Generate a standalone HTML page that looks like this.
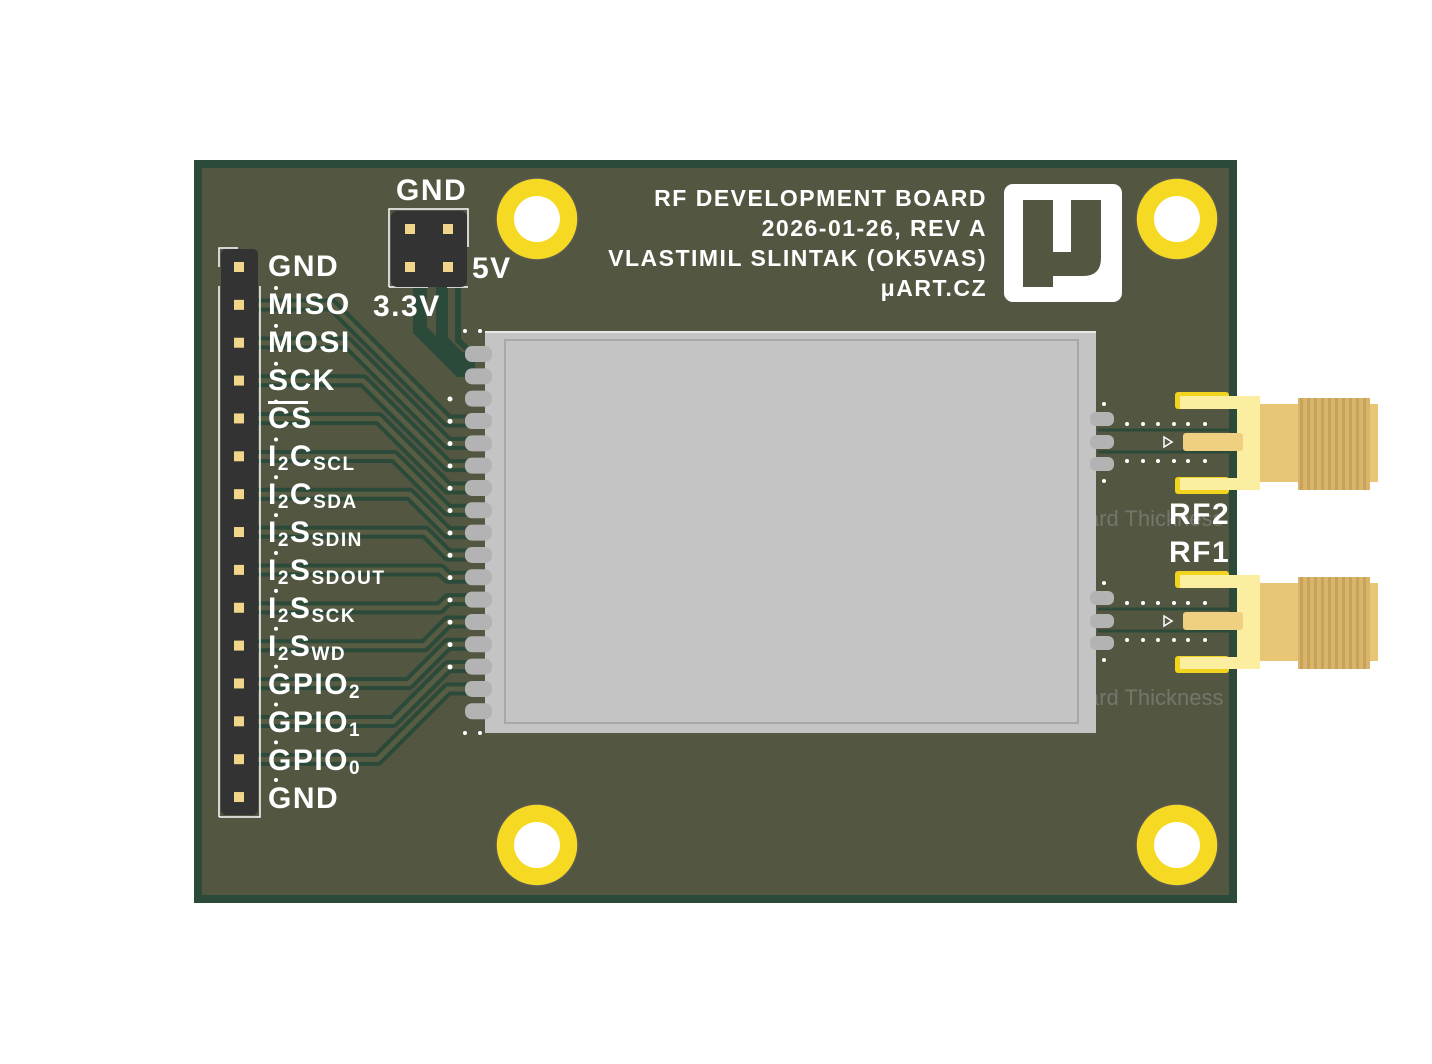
<!DOCTYPE html>
<html><head><meta charset="utf-8"><style>
html,body{margin:0;padding:0;background:#fff;}
svg{display:block}
.l{font-family:"Liberation Sans",sans-serif;font-weight:bold;fill:#fff;}
</style></head><body>
<svg width="1432" height="1064" viewBox="0 0 1432 1064" xmlns="http://www.w3.org/2000/svg">
<rect x="194" y="160" width="1043" height="743" fill="#2c4a3a"/>
<rect x="202" y="168" width="1027" height="727" fill="#535640"/>
<g font-family="Liberation Sans,sans-serif" font-size="22" fill="#75756c">
<text x="1060" y="526">Board Thickness</text>
<text x="1060" y="705">Board Thickness</text>
</g>
<g id="traces" fill="none" stroke-linejoin="round"></g>
<path d="M420 287 V330 L460 370 H475" stroke="#2c4a3a" stroke-width="14" fill="none"/>
<path d="M442 287 V340 L460 358 H475" stroke="#2c4a3a" stroke-width="12" fill="none"/>
<path d="M458 287 V340 L470 352" stroke="#2c4a3a" stroke-width="6" fill="none"/>
<rect x="485" y="331" width="611" height="402" fill="#c4c4c4"/>
<rect x="485" y="331" width="611" height="2" fill="#e8e8e8"/>
<rect x="505" y="340" width="573" height="383" fill="none" stroke="#a8a8a8" stroke-width="2"/>
<g id="pads" fill="#b3b3b3"></g>
<g fill="#b3b3b3">
<rect x="1090" y="412" width="24" height="14" rx="6"/><rect x="1090" y="435" width="24" height="14" rx="6"/><rect x="1090" y="457" width="24" height="14" rx="6"/>
<rect x="1090" y="591" width="24" height="14" rx="6"/><rect x="1090" y="614" width="24" height="14" rx="6"/><rect x="1090" y="636" width="24" height="14" rx="6"/>
</g>
<g stroke="#2c4a3a" stroke-width="3">
<line x1="1098" y1="430" x2="1230" y2="430"/><line x1="1098" y1="452" x2="1230" y2="452"/>
<line x1="1098" y1="609" x2="1230" y2="609"/><line x1="1098" y1="631" x2="1230" y2="631"/>
</g>
<g fill="#fff" id="vias"></g>
<g fill="#f5d922" stroke="#5a5a50" stroke-width="1.5">
<circle cx="537" cy="219" r="41"/><circle cx="1177" cy="219" r="41"/><circle cx="537" cy="845" r="41"/><circle cx="1177" cy="845" r="41"/>
</g>
<g fill="#fff"><circle cx="537" cy="219" r="23"/><circle cx="1177" cy="219" r="23"/><circle cx="537" cy="845" r="23"/><circle cx="1177" cy="845" r="23"/></g>
<path d="M389 287 V209 H468 V247" fill="none" stroke="#fff" stroke-width="1.5"/>
<path d="M389 287 H428 M447 287 H468" fill="none" stroke="#fff" stroke-width="1.5"/>
<rect x="391" y="211" width="76" height="76" rx="6" fill="#333"/>
<g fill="#f0d58a"><rect x="405" y="224" width="10" height="10"/><rect x="443" y="224" width="10" height="10"/><rect x="405" y="262" width="10" height="10"/><rect x="443" y="262" width="10" height="10"/></g>
<path d="M219 817 V286 M219 267 V248 H238 M219 817 H260 V286" fill="none" stroke="#fff" stroke-width="1.5"/>
<rect x="221" y="249" width="37" height="566" rx="5" fill="#333"/>
<g id="pins" fill="#f0d58a"></g>
<g class="l" font-size="30" letter-spacing="1.5">
<text x="268" y="276">GND</text>
<text x="268" y="314">MISO</text>
<text x="268" y="352">MOSI</text>
<text x="268" y="390">SCK</text>
<text x="268" y="428">CS</text>
<text x="268" y="466">I<tspan font-size="19" dy="4">2</tspan><tspan dy="-4">C</tspan><tspan font-size="19" dy="4">SCL</tspan></text>
<text x="268" y="504">I<tspan font-size="19" dy="4">2</tspan><tspan dy="-4">C</tspan><tspan font-size="19" dy="4">SDA</tspan></text>
<text x="268" y="542">I<tspan font-size="19" dy="4">2</tspan><tspan dy="-4">S</tspan><tspan font-size="19" dy="4">SDIN</tspan></text>
<text x="268" y="580">I<tspan font-size="19" dy="4">2</tspan><tspan dy="-4">S</tspan><tspan font-size="19" dy="4">SDOUT</tspan></text>
<text x="268" y="618">I<tspan font-size="19" dy="4">2</tspan><tspan dy="-4">S</tspan><tspan font-size="19" dy="4">SCK</tspan></text>
<text x="268" y="656">I<tspan font-size="19" dy="4">2</tspan><tspan dy="-4">S</tspan><tspan font-size="19" dy="4">WD</tspan></text>
<text x="268" y="694">GPIO<tspan font-size="19" dy="4">2</tspan></text>
<text x="268" y="732">GPIO<tspan font-size="19" dy="4">1</tspan></text>
<text x="268" y="770">GPIO<tspan font-size="19" dy="4">0</tspan></text>
<text x="268" y="808">GND</text>
<text x="396" y="200">GND</text>
<text x="472" y="278">5V</text>
<text x="373" y="316">3.3V</text>
<text x="1169" y="524">RF2</text>
<text x="1169" y="562">RF1</text>
</g>
<rect x="268" y="401" width="40" height="3" fill="#fff"/>
<g class="l" font-size="23" text-anchor="end" letter-spacing="1.5">
<text x="987" y="206">RF DEVELOPMENT BOARD</text>
<text x="987" y="236">2026-01-26, REV A</text>
<text x="987" y="266">VLASTIMIL SLINTAK (OK5VAS)</text>
<text x="987" y="296">μART.CZ</text>
</g>
<rect x="1237" y="160" width="200" height="743" fill="#fff"/>
<rect x="1229" y="160" width="8" height="743" fill="#2c4a3a"/>
<rect x="1004" y="184" width="118" height="118" rx="9" fill="#fff"/>
<path d="M1023 200 H1053 V252 H1071 V200 H1101 V258 Q1101 276 1083 276 H1053 V287 H1023 Z" fill="#535640"/>
<g id="sma"></g>
</svg>
<script>
var ns="http://www.w3.org/2000/svg";
function el(p,t,a){var e=document.createElementNS(ns,t);for(var k in a)e.setAttribute(k,a[k]);document.getElementById(p).appendChild(e);return e;}
for(var i=0;i<15;i++){el('pins','rect',{x:234,y:262+i*37.86,width:10,height:10});}
for(var k=0;k<17;k++){el('pads','rect',{x:465,y:346+k*22.33,width:27,height:16,rx:7});}
for(var i=0;i<13;i++){
 var yp=305+i*37.86, yk=354+(i+3)*22.33, dy=yk-yp, xb=448, xa=xb-Math.abs(dy);
 var d='M258 '+yp+' H'+xa+' L'+xb+' '+yk+' H475';
 el('traces','path',{d:d,stroke:'#2c4a3a','stroke-width':13});
 el('traces','path',{d:d,stroke:'#585c42','stroke-width':5});
 el('vias','circle',{cx:276,cy:yp-17,r:2});
 el('vias','circle',{cx:450,cy:yk-22,r:2.5});
}
el('vias','circle',{cx:276,cy:780,r:2});
[[465,331],[480,331],[465,733],[480,733],[1104,404],[1104,481],[1104,583],[1104,660]].forEach(function(p){el('vias','circle',{cx:p[0],cy:p[1],r:2});});
[0,179].forEach(function(o){
 [424,461].forEach(function(y){[1127,1143,1158,1174,1188,1205].forEach(function(x){el('vias','circle',{cx:x,cy:y+o,r:2});});});
 el('sma','rect',{x:1175,y:392+o,width:54,height:17,rx:3,fill:'#f2d41e'});
 el('sma','rect',{x:1175,y:477+o,width:54,height:17,rx:3,fill:'#f2d41e'});
 el('sma','rect',{x:1180,y:396+o,width:80,height:13,fill:'#fbeea0'});
 el('sma','rect',{x:1180,y:478+o,width:80,height:12,fill:'#fbeea0'});
 el('sma','rect',{x:1237,y:396+o,width:23,height:94,fill:'#fbeea0'});
 el('sma','rect',{x:1183,y:433+o,width:60,height:18,rx:3,fill:'#efcf80'});
 el('sma','path',{d:'M1164 '+(437+o)+' L1172 '+(442+o)+' L1164 '+(447+o)+' Z',fill:'none',stroke:'#fff','stroke-width':1.5});
 el('sma','rect',{x:1260,y:404+o,width:40,height:78,fill:'#e8c675'});
 el('sma','rect',{x:1298,y:398+o,width:72,height:92,fill:'#d8b56a'});
 el('sma','rect',{x:1370,y:404+o,width:8,height:78,fill:'#e8c675'});
 for(var t=0;t<10;t++)el('sma','rect',{x:1300+t*7,y:398+o,width:3,height:92,fill:'#c6a25a'});
});
</script>
</body></html>
